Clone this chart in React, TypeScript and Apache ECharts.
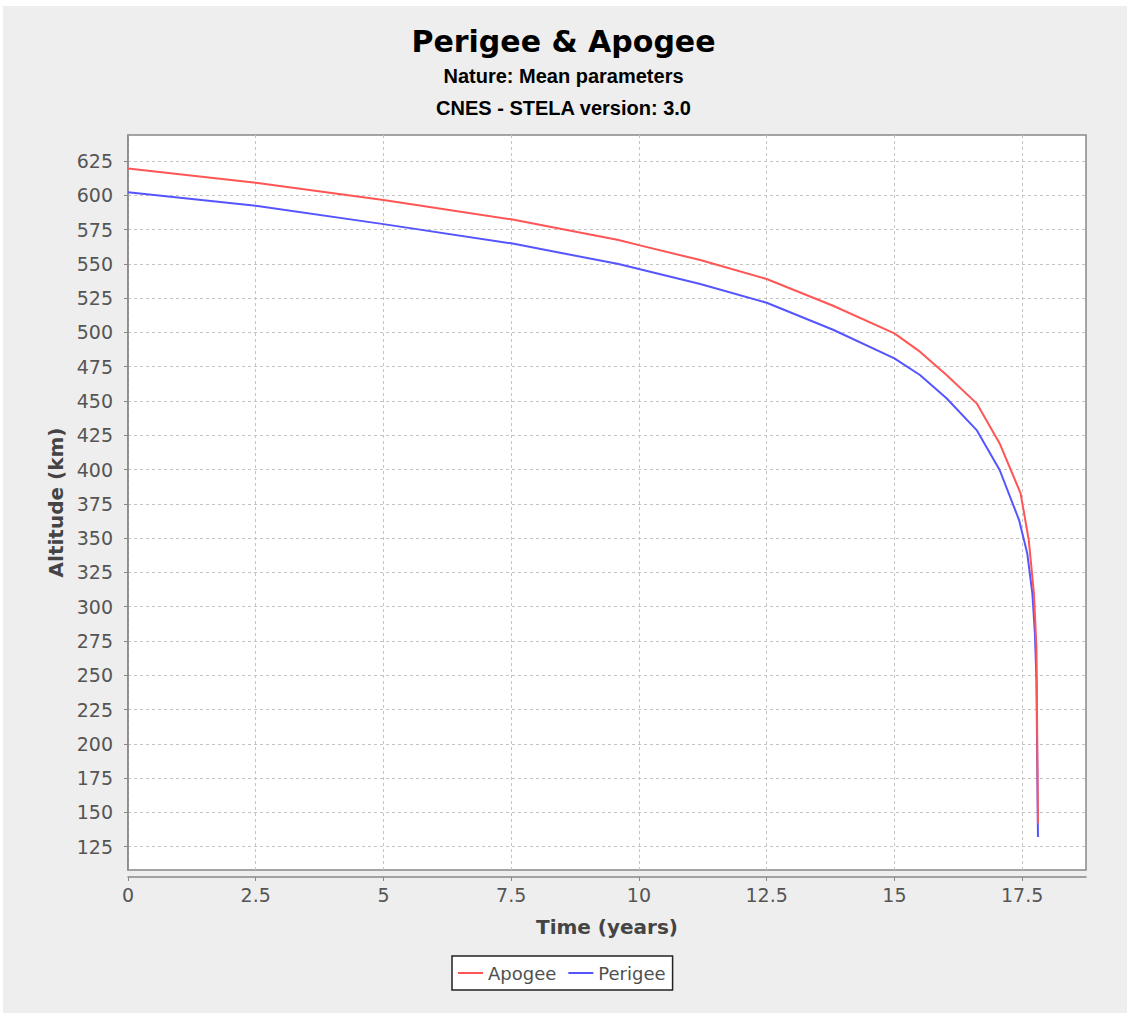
import React, { useEffect, useRef } from "react";
import * as echarts from "echarts";

// Time (years) and altitude (km)
const apogeeTime = [0, 2.5, 5, 7.5, 9.6, 10, 11.2, 12.5, 13.8, 15, 15.5, 16.02, 16.61, 17.06, 17.47, 17.63, 17.73, 17.78, 17.81];
const apogeeAlt = [619.5, 609.2, 596.6, 582.5, 567.4, 563.7, 552.8, 539, 519.5, 499.3, 486, 469, 448.3, 419.1, 382.7, 348.6, 309.8, 270.8, 142];

const perigeeTime = [0, 2.5, 5, 7.5, 9.6, 10, 11.2, 12.5, 13.8, 15, 15.5, 16.02, 16.61, 17.06, 17.44, 17.6, 17.7, 17.75, 17.78, 17.81];
const perigeeAlt = [602.2, 592.4, 579, 565, 549.9, 546.3, 535.3, 521.7, 502, 481.1, 469, 452, 428.8, 399.7, 363.2, 338.9, 309.8, 280.6, 246.6, 132];

const xTicks = [0, 2.5, 5, 7.5, 10, 12.5, 15, 17.5];
const yTicks = [125, 150, 175, 200, 225, 250, 275, 300, 325, 350, 375, 400, 425, 450, 475, 500, 525, 550, 575, 600, 625];

const seriesNames = ["Apogee", "Perigee"];
const seriesColors = ["#ff5555", "#5555ff"];

const titleText = "Perigee & Apogee";
const subtitle1 = "Nature: Mean parameters";
const subtitle2 = "CNES - STELA version: 3.0";
const xName = "Time (years)";
const yName = "Altitude (km)";

export default function App() {
  const ref = useRef<HTMLDivElement>(null);

  useEffect(() => {
    if (!ref.current) return;
    const chart = echarts.init(ref.current, null, { renderer: "svg" });

    const apogeeData = apogeeTime.map((t, i) => [t, apogeeAlt[i]]);
    const perigeeData = perigeeTime.map((t, i) => [t, perigeeAlt[i]]);

    const labelFont = { fontFamily: "DejaVu Sans", fontSize: 19, color: "#555555" };
    const nameFont = { fontFamily: "DejaVu Sans", fontSize: 20, fontWeight: "bold" as const, color: "#444" };

    chart.setOption({
      animation: false,
      backgroundColor: "#ffffff",
      graphic: [
        {
          type: "rect",
          z: -10,
          silent: true,
          shape: { x: 3, y: 6, width: 1124, height: 1007 },
          style: { fill: "#eeeeee" },
        },
      ],
      title: [
        {
          text: titleText,
          left: "center",
          top: 26,
          padding: 0,
          textStyle: { fontFamily: "DejaVu Sans", fontSize: 30, fontWeight: "bold", color: "#000" },
        },
        {
          text: subtitle1,
          left: "center",
          top: 66,
          padding: 0,
          textStyle: { fontFamily: "Liberation Sans", fontSize: 20, fontWeight: "bold", color: "#000" },
        },
        {
          text: subtitle2,
          left: "center",
          top: 98,
          padding: 0,
          textStyle: { fontFamily: "Liberation Sans", fontSize: 20, fontWeight: "bold", color: "#000" },
        },
      ],
      legend: {
        data: seriesNames,
        left: 452,
        top: 956,
        orient: "horizontal",
        icon: "rect",
        itemWidth: 25,
        itemHeight: 2,
        itemGap: 12,
        padding: [8, 7, 8, 6],
        backgroundColor: "#ffffff",
        borderColor: "#222",
        borderWidth: 1.5,
        borderRadius: 0,
        textStyle: { fontFamily: "DejaVu Sans", fontSize: 18, color: "#505050" },
      },
      grid: {
        left: 128,
        top: 135,
        width: 958,
        height: 735,
        show: true,
        backgroundColor: "#ffffff",
        borderColor: "#888888",
        borderWidth: 1.5,
        containLabel: false,
      },
      xAxis: {
        type: "value",
        min: 0,
        max: 18.75,
        offset: 7,
        name: xName,
        nameLocation: "middle",
        nameGap: 40,
        nameTextStyle: nameFont,
        axisLine: { show: true, lineStyle: { color: "#888", width: 1.5 } },
        axisTick: { show: true, length: 4, lineStyle: { color: "#888", width: 1 }, customValues: xTicks },
        axisLabel: { ...labelFont, margin: 8, customValues: xTicks },
        splitLine: { show: true, lineStyle: { color: "#c4c4c4", width: 1, type: [3, 3] } },
      },
      yAxis: {
        type: "value",
        min: 108,
        max: 644,
        offset: 6,
        name: yName,
        nameLocation: "middle",
        nameGap: 54,
        nameTextStyle: nameFont,
        axisLine: { show: true, lineStyle: { color: "#888", width: 1.5 } },
        axisTick: { show: true, length: 4, lineStyle: { color: "#888", width: 1 }, customValues: yTicks },
        axisLabel: { ...labelFont, margin: 9, customValues: yTicks },
        splitLine: { show: true, lineStyle: { color: "#c4c4c4", width: 1, type: [3, 3] } },
      },
      series: [
        {
          name: seriesNames[0],
          type: "line",
          data: apogeeData,
          showSymbol: false,
          symbol: "none",
          z: 3,
          color: seriesColors[0],
          lineStyle: { color: seriesColors[0], width: 2 },
        },
        {
          name: seriesNames[1],
          type: "line",
          data: perigeeData,
          showSymbol: false,
          symbol: "none",
          z: 2,
          color: seriesColors[1],
          lineStyle: { color: seriesColors[1], width: 2 },
        },
      ],
    });

    return () => {
      chart.dispose();
    };
  }, []);

  return (
    <div
      ref={ref}
      style={{ position: "absolute", left: 0, top: 0, width: 1127, height: 1013 }}
    />
  );
}
